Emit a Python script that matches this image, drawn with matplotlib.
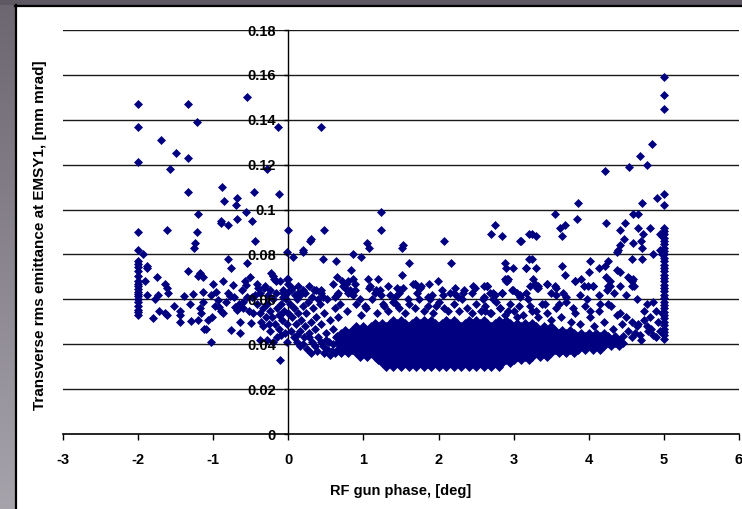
import matplotlib
matplotlib.use("Agg")
import matplotlib.pyplot as plt
import numpy as np
from matplotlib.patches import Rectangle
from matplotlib.lines import Line2D
from matplotlib.colors import LinearSegmentedColormap

# ---------------- data ----------------
x_ticks = [-3, -2, -1, 0, 1, 2, 3, 4, 5, 6]
y_ticks = [0, 0.02, 0.04, 0.06, 0.08, 0.10, 0.12, 0.14, 0.16, 0.18]
y_ticklabels = ["0", "0.02", "0.04", "0.06", "0.08", "0.1", "0.12", "0.14", "0.16", "0.18"]

# isolated high points
high_pts = [
    (-2.00, 0.147), (-2.00, 0.137), (-2.00, 0.121), (-1.70, 0.131), (-1.50, 0.125), (-1.58, 0.118),
    (-1.34, 0.147), (-1.34, 0.123), (-1.21, 0.139), (-1.34, 0.108), (-1.20, 0.098), (-1.21, 0.090),
    (-1.24, 0.085), (-1.25, 0.083), (-1.62, 0.091), (-2.00, 0.090), (-2.00, 0.082), (-1.93, 0.080),
    (-0.88, 0.110), (-0.86, 0.104), (-0.68, 0.105), (-0.70, 0.102), (-0.89, 0.095), (-0.90, 0.094),
    (-0.80, 0.093), (-0.68, 0.096), (-0.57, 0.099), (-0.48, 0.095), (-0.46, 0.108), (-0.55, 0.150),
    (-0.14, 0.137), (-0.29, 0.118), (-0.12, 0.107), (-0.44, 0.086), (-0.80, 0.078), (-0.76, 0.074),
    (-0.55, 0.076), (-0.02, 0.081), (0.00, 0.091), (0.43, 0.137), (0.47, 0.091), (1.24, 0.099),
    (1.23, 0.091), (0.29, 0.086), (0.30, 0.087), (1.05, 0.085), (1.07, 0.083), (0.06, 0.079),
    (0.19, 0.081), (0.20, 0.082), (0.46, 0.078), (0.86, 0.080), (0.97, 0.079), (1.52, 0.084),
    (1.51, 0.083), (2.07, 0.086), (2.75, 0.093), (2.70, 0.089), (2.84, 0.088), (3.09, 0.086),
    (3.21, 0.089), (1.61, 0.076), (2.16, 0.076), (2.88, 0.076), (2.90, 0.074), (2.99, 0.074),
    (3.16, 0.074), (3.21, 0.078), (0.63, 0.077), (0.83, 0.073), (0.65, 0.070), (1.51, 0.071),
    (4.84, 0.129), (4.68, 0.124), (4.78, 0.120), (4.54, 0.119), (4.22, 0.117), (4.91, 0.105),
    (4.71, 0.103), (3.86, 0.103), (3.55, 0.098), (3.84, 0.096), (4.59, 0.098), (4.66, 0.098),
    (4.23, 0.094), (3.68, 0.093), (3.62, 0.092), (3.64, 0.088), (4.48, 0.094), (4.41, 0.091),
    (4.65, 0.092), (4.82, 0.092), (3.24, 0.089), (3.30, 0.088), (3.10, 0.086), (4.47, 0.087),
    (4.72, 0.089), (4.59, 0.085), (4.41, 0.084), (4.39, 0.082), (4.69, 0.086), (4.95, 0.089),
    (4.97, 0.088), (4.95, 0.082), (4.97, 0.080), (4.85, 0.080), (4.57, 0.078), (4.71, 0.078),
    (4.38, 0.081), (4.71, 0.083), (3.24, 0.078), (3.16, 0.074), (3.30, 0.074), (3.64, 0.075),
    (4.02, 0.077), (4.26, 0.077), (4.21, 0.075), (4.13, 0.074), (3.69, 0.071), (4.00, 0.072),
    (4.38, 0.073), (4.41, 0.072), (4.52, 0.070), (4.55, 0.069), (4.58, 0.068), (4.60, 0.066),
]

# column of runs at -2 deg and at +5 deg
col_m2_emit = [0.077, 0.0757, 0.0745, 0.0727, 0.0705, 0.068, 0.0668, 0.066, 0.0645, 0.0634,
               0.0624, 0.0615, 0.060, 0.0587, 0.057, 0.0552, 0.0542, 0.053]
col_p5_emit = [0.159, 0.151, 0.145, 0.107, 0.102, 0.092, 0.0905, 0.089, 0.0875, 0.086, 0.0845,
               0.083, 0.0815, 0.080, 0.0785, 0.077, 0.0755, 0.074, 0.0725, 0.071, 0.0695, 0.068,
               0.0665, 0.065, 0.0635, 0.062, 0.0605, 0.059, 0.0575, 0.056, 0.0545, 0.053, 0.0515,
               0.050, 0.0485, 0.047, 0.0455, 0.044, 0.0425]

# scattered points left of zero
left_pts = [
    (-1.88, 0.075), (-1.88, 0.074), (-1.91, 0.068), (-1.88, 0.062), (-1.75, 0.070), (-1.80, 0.0515),
    (-1.72, 0.055), (-1.73, 0.062), (-1.78, 0.060), (-1.64, 0.067), (-1.62, 0.065), (-1.60, 0.063),
    (-1.64, 0.054), (-1.62, 0.053), (-1.52, 0.057), (-1.44, 0.055), (-1.44, 0.053), (-1.44, 0.050),
    (-1.39, 0.0615), (-1.33, 0.0727), (-1.31, 0.058), (-1.29, 0.0505), (-1.27, 0.0624), (-1.20, 0.0704),
    (-1.17, 0.0716), (-1.13, 0.070), (-1.20, 0.051), (-1.18, 0.056), (-1.16, 0.054), (-1.12, 0.047),
    (-1.09, 0.047), (-1.07, 0.0508), (-1.02, 0.0522), (-1.03, 0.041), (-1.14, 0.0634), (-1.13, 0.059),
    (-1.00, 0.0668), (-1.03, 0.062), (-0.96, 0.0634), (-0.93, 0.0597), (-0.87, 0.068), (-0.92, 0.0565),
    (-0.90, 0.0548), (-0.87, 0.0538), (-0.80, 0.063), (-0.78, 0.0615), (-0.76, 0.0463), (-0.74, 0.0664),
    (-0.69, 0.0552), (-0.71, 0.0565), (-0.65, 0.050), (-0.65, 0.0451), (-0.58, 0.068),
    (-0.56, 0.0664), (-0.60, 0.059), (-0.60, 0.056), (-0.51, 0.070), (-0.49, 0.0612), (-0.50, 0.0493),
    (-0.40, 0.065), (-0.38, 0.0627), (-0.38, 0.0538), (-0.36, 0.0497), (-0.34, 0.048), (-0.32, 0.065),
    (-0.23, 0.0716), (-0.21, 0.0704), (-0.19, 0.069), (-0.17, 0.068), (-0.11, 0.033), (0.00, 0.069),
    (0.00, 0.0668), (-0.29, 0.042), (-0.20, 0.041), (-0.02, 0.041), (0.11, 0.041), (-0.38, 0.042),
    (-0.28, 0.058), (-0.25, 0.055), (-0.22, 0.052), (-0.20, 0.060), (-0.18, 0.049), (-0.15, 0.056),
    (-0.13, 0.053), (-0.12, 0.047), (-0.10, 0.058), (-0.08, 0.051), (-0.06, 0.055), (-0.05, 0.045),
    (-0.03, 0.060), (-0.02, 0.049), (-0.24, 0.046), (-0.30, 0.052), (-0.34, 0.056), (-0.27, 0.062),
    (-0.16, 0.063), (-0.07, 0.061), (-0.42, 0.058), (-0.45, 0.062), (-0.47, 0.054), (-0.55, 0.061),
    (-0.62, 0.064), (-0.66, 0.058), (-0.72, 0.061), (-0.83, 0.059), (-0.98, 0.057), (-0.52, 0.055),
    (-0.26, 0.049), (-0.42, 0.067), (-0.31, 0.066), (-0.25, 0.064), (-0.07, 0.063), (-0.02, 0.069),
    (-0.11, 0.068), (-0.07, 0.064), (-0.02, 0.063), (-0.10, 0.044), (-0.15, 0.043), (-0.09, 0.054),
]

# scattered points right of zero, above the dense core
mid_pts = [
    (0.00, 0.054), (0.02, 0.058), (0.03, 0.046), (0.05, 0.052), (0.07, 0.056), (0.08, 0.043),
    (0.10, 0.049), (0.12, 0.060), (0.13, 0.054), (0.15, 0.046), (0.17, 0.051), (0.19, 0.057),
    (0.21, 0.043), (0.22, 0.048), (0.24, 0.054), (0.26, 0.059), (0.28, 0.045), (0.30, 0.050),
    (0.32, 0.041), (0.33, 0.056), (0.35, 0.047), (0.37, 0.052), (0.40, 0.043), (0.42, 0.058),
    (0.44, 0.049), (0.46, 0.039), (0.48, 0.054), (0.50, 0.045), (0.52, 0.060), (0.54, 0.041),
    (0.56, 0.051), (0.58, 0.037), (0.60, 0.047), (0.62, 0.056), (0.64, 0.043), (0.66, 0.052),
    (0.68, 0.038), (0.09, 0.062), (0.16, 0.039), (0.25, 0.038), (0.38, 0.037), (0.48, 0.036),
    (0.55, 0.035), (0.40, 0.060), (0.34, 0.064), (0.27, 0.066), (0.13, 0.066), (0.05, 0.065),
    (0.20, 0.040), (0.30, 0.036), (0.35, 0.039), (0.43, 0.041), (0.52, 0.038), (0.60, 0.040),
    (0.62, 0.036), (0.27, 0.043), (0.12, 0.044), (0.50, 0.042),
    (0.04, 0.064), (0.13, 0.063), (0.20, 0.064), (0.31, 0.061), (0.37, 0.064), (0.44, 0.063),
    (0.46, 0.061), (0.62, 0.061), (0.65, 0.062), (0.71, 0.068), (0.73, 0.066), (0.75, 0.065),
    (0.80, 0.063), (0.84, 0.063), (0.89, 0.064), (1.08, 0.065), (1.17, 0.064), (1.22, 0.064),
    (1.33, 0.066), (1.35, 0.062), (1.42, 0.061), (1.45, 0.065), (1.49, 0.064), (1.48, 0.063),
    (1.59, 0.060), (1.69, 0.067), (1.71, 0.066), (1.75, 0.065), (1.86, 0.061), (1.91, 0.062),
    (2.06, 0.062), (2.15, 0.063), (2.20, 0.063), (2.26, 0.061), (2.34, 0.064), (2.44, 0.063),
    (2.48, 0.065), (2.60, 0.066), (2.65, 0.066), (2.68, 0.063), (2.75, 0.062), (2.84, 0.063),
    (2.91, 0.068), (2.93, 0.069), (2.98, 0.064), (3.05, 0.063), (3.08, 0.061), (3.17, 0.063),
    (0.15, 0.062), (0.22, 0.063), (0.44, 0.064), (0.60, 0.067), (0.66, 0.063), (0.69, 0.058),
    (0.77, 0.067), (0.82, 0.064), (0.86, 0.062), (0.89, 0.067), (0.95, 0.060), (1.02, 0.057),
    (1.09, 0.066), (1.15, 0.063), (1.24, 0.062), (1.26, 0.058), (1.44, 0.058), (1.53, 0.065),
    (1.66, 0.067), (1.71, 0.063), (1.77, 0.066), (1.88, 0.060), (1.97, 0.057), (2.04, 0.064),
    (2.22, 0.065), (2.33, 0.063), (2.46, 0.066), (2.60, 0.061), (2.64, 0.066), (2.73, 0.060),
    (1.06, 0.069), (1.19, 0.069), (0.86, 0.069), (0.80, 0.068), (1.99, 0.068), (1.87, 0.067),
    (1.68, 0.067), (2.91, 0.069), (2.90, 0.068), (3.26, 0.069), (3.33, 0.066), (3.31, 0.065),
    (3.44, 0.067), (3.55, 0.066), (3.57, 0.065), (3.82, 0.068), (3.90, 0.069), (3.99, 0.066),
    (4.05, 0.066), (4.23, 0.070), (4.28, 0.068), (4.26, 0.066),
    (0.78, 0.055), (0.90, 0.058), (0.97, 0.053), (1.04, 0.056), (1.12, 0.060), (1.18, 0.054),
    (1.27, 0.057), (1.33, 0.055), (1.40, 0.059), (1.47, 0.056), (1.55, 0.054), (1.60, 0.058),
    (1.68, 0.056), (1.74, 0.060), (1.80, 0.055), (1.86, 0.057), (1.93, 0.054), (2.00, 0.059),
    (2.07, 0.056), (2.12, 0.055), (2.20, 0.058), (2.27, 0.055), (2.31, 0.060), (2.38, 0.056),
    (2.45, 0.054), (2.50, 0.058), (2.56, 0.055), (2.62, 0.057), (2.70, 0.054), (2.76, 0.059),
    (2.82, 0.056), (2.88, 0.053), (2.95, 0.058), (3.01, 0.055), (3.07, 0.057), (3.13, 0.053),
    (3.19, 0.060), (3.25, 0.055), (3.32, 0.052), (3.38, 0.058), (3.45, 0.054), (3.50, 0.051),
    (3.57, 0.056), (3.63, 0.052), (3.70, 0.059), (3.76, 0.050), (3.82, 0.054), (3.88, 0.049),
    (3.95, 0.057), (4.01, 0.052), (4.07, 0.048), (4.14, 0.055), (4.20, 0.050), (4.26, 0.058),
    (4.32, 0.047), (4.38, 0.053), (4.44, 0.049),
    (2.64, 0.066), (2.73, 0.063), (2.84, 0.063), (2.99, 0.064), (3.08, 0.062), (2.88, 0.069),
    (3.22, 0.066), (3.28, 0.067), (3.44, 0.067), (3.33, 0.065), (3.50, 0.063), (3.57, 0.062),
    (3.66, 0.063), (3.70, 0.061), (3.81, 0.068), (3.88, 0.062), (3.93, 0.066), (3.97, 0.060),
    (4.06, 0.066), (4.13, 0.062), (4.24, 0.064), (4.28, 0.066), (4.33, 0.063), (4.42, 0.066),
    (4.50, 0.062), (4.57, 0.066), (4.59, 0.069), (4.64, 0.060), (4.77, 0.058), (4.86, 0.059),
    (4.90, 0.055), (4.97, 0.054), (2.59, 0.060), (2.62, 0.055), (2.68, 0.054), (2.82, 0.056),
    (2.93, 0.055), (3.04, 0.052), (3.22, 0.057), (3.30, 0.055), (3.42, 0.058), (3.61, 0.058),
    (3.79, 0.056), (4.02, 0.055), (4.15, 0.058), (4.30, 0.057), (4.42, 0.054), (4.50, 0.052),
    (4.57, 0.050), (4.64, 0.048), (4.73, 0.051), (4.79, 0.046), (4.86, 0.044), (4.90, 0.043),
    (4.57, 0.043), (4.61, 0.045), (4.68, 0.044), (4.77, 0.048), (4.81, 0.052), (4.73, 0.055),
    (4.52, 0.046), (4.66, 0.049), (4.83, 0.047), (4.92, 0.050), (4.70, 0.042), (4.95, 0.046),
]

# dense core: emittance level of each row and the phases found on that row
core_levels = [0.0300, 0.0315, 0.0330, 0.0345, 0.0360, 0.0375, 0.0390, 0.0405,
               0.0420, 0.0435, 0.0450, 0.0465, 0.0480, 0.0495, 0.0510]
core_phases = [
    [1.30, 1.40, 1.50, 1.60, 1.70, 1.80, 1.90, 2.00, 2.10, 2.20, 2.30, 2.40, 2.50, 2.60, 2.70,
     2.80],
    [1.25, 1.35, 1.45, 1.55, 1.65, 1.75, 1.85, 1.95, 2.05, 2.15, 2.25, 2.35, 2.45, 2.55, 2.65,
     2.75, 2.85, 2.95],
    [1.20, 1.30, 1.40, 1.50, 1.60, 1.70, 1.80, 1.90, 2.00, 2.10, 2.20, 2.30, 2.40, 2.50, 2.60,
     2.70, 2.80, 2.90, 3.00, 3.10, 3.20],
    [0.95, 1.05, 1.15, 1.25, 1.35, 1.45, 1.55, 1.65, 1.75, 1.85, 1.95, 2.05, 2.15, 2.25, 2.35,
     2.45, 2.55, 2.65, 2.75, 2.85, 2.95, 3.05, 3.15, 3.25, 3.35, 3.45],
    [0.70, 0.80, 0.90, 1.00, 1.10, 1.20, 1.30, 1.40, 1.50, 1.60, 1.70, 1.80, 1.90, 2.00, 2.10,
     2.20, 2.30, 2.40, 2.50, 2.60, 2.70, 2.80, 2.90, 3.00, 3.10, 3.20, 3.30, 3.40, 3.50, 3.60,
     3.70, 3.80],
    [0.65, 0.75, 0.85, 0.95, 1.05, 1.15, 1.25, 1.35, 1.45, 1.55, 1.65, 1.75, 1.85, 1.95, 2.05,
     2.15, 2.25, 2.35, 2.45, 2.55, 2.65, 2.75, 2.85, 2.95, 3.05, 3.15, 3.25, 3.35, 3.45, 3.55,
     3.65, 3.75, 3.85, 3.95, 4.05, 4.15],
    [0.70, 0.80, 0.90, 1.00, 1.10, 1.20, 1.30, 1.40, 1.50, 1.60, 1.70, 1.80, 1.90, 2.00, 2.10,
     2.20, 2.30, 2.40, 2.50, 2.60, 2.70, 2.80, 2.90, 3.00, 3.10, 3.20, 3.30, 3.40, 3.50, 3.60,
     3.70, 3.80, 3.90, 4.00, 4.10, 4.20, 4.30, 4.40],
    [0.65, 0.75, 0.85, 0.95, 1.05, 1.15, 1.25, 1.35, 1.45, 1.55, 1.65, 1.75, 1.85, 1.95, 2.05,
     2.15, 2.25, 2.35, 2.45, 2.55, 2.65, 2.75, 2.85, 2.95, 3.05, 3.15, 3.25, 3.35, 3.45, 3.55,
     3.65, 3.75, 3.85, 3.95, 4.05, 4.15, 4.25, 4.35, 4.45],
    [0.70, 0.80, 0.90, 1.00, 1.10, 1.20, 1.30, 1.40, 1.50, 1.60, 1.70, 1.80, 1.90, 2.00, 2.10,
     2.20, 2.30, 2.40, 2.50, 2.60, 2.70, 2.80, 2.90, 3.00, 3.10, 3.20, 3.30, 3.40, 3.50, 3.60,
     3.70, 3.80, 3.90, 4.00, 4.10, 4.20, 4.30, 4.40],
    [0.65, 0.75, 0.85, 0.95, 1.05, 1.15, 1.25, 1.35, 1.45, 1.55, 1.65, 1.75, 1.85, 1.95, 2.05,
     2.15, 2.25, 2.35, 2.45, 2.55, 2.65, 2.75, 2.85, 2.95, 3.05, 3.15, 3.25, 3.35, 3.45, 3.55,
     3.65, 3.75, 3.85, 3.95, 4.05, 4.15, 4.25, 4.35, 4.45],
    [0.70, 0.80, 0.90, 1.00, 1.10, 1.20, 1.30, 1.40, 1.50, 1.60, 1.70, 1.80, 1.90, 2.00, 2.10,
     2.20, 2.30, 2.40, 2.50, 2.60, 2.70, 2.80, 2.90, 3.00, 3.10, 3.20, 3.30, 3.40, 3.50, 3.60,
     3.70, 3.80, 3.90, 4.00, 4.10, 4.20],
    [0.75, 0.85, 0.95, 1.05, 1.15, 1.25, 1.35, 1.45, 1.55, 1.65, 1.75, 1.85, 1.95, 2.05, 2.15,
     2.25, 2.35, 2.45, 2.55, 2.65, 2.75, 2.85, 2.95, 3.05, 3.15, 3.25, 3.35, 3.45, 3.55, 3.65,
     3.75],
    [0.90, 1.00, 1.10, 1.20, 1.30, 1.40, 1.50, 1.60, 1.70, 1.80, 1.90, 2.00, 2.10, 2.20, 2.30,
     2.40, 2.50, 2.60, 2.70, 2.80, 2.90, 3.00, 3.10, 3.20, 3.30, 3.40, 3.50],
    [1.15, 1.25, 1.35, 1.45, 1.55, 1.65, 1.75, 1.85, 1.95, 2.05, 2.15, 2.25, 2.35, 2.45, 2.55,
     2.65, 2.75, 2.85, 2.95, 3.05, 3.15, 3.25],
    [1.40, 1.50, 1.70, 1.80, 1.90, 2.10, 2.20, 2.40, 2.50, 2.60, 2.80, 2.90],
]

# ---------------- assemble ----------------
phase = []
emit = []
for group in (high_pts, left_pts, mid_pts):
    for p, e in group:
        phase.append(p)
        emit.append(e)
for e in col_m2_emit:
    phase.append(-2.0)
    emit.append(e)
for e in col_p5_emit:
    phase.append(5.0)
    emit.append(e)
for lvl, row in zip(core_levels, core_phases):
    for p in row:
        phase.append(p)
        emit.append(lvl)

# ---------------- figure ----------------
W, H = 742, 509
fig = plt.figure(figsize=(W / 100, H / 100), dpi=100)
fig.patch.set_facecolor("white")

# grey slide frame on the left and top
bg = fig.add_axes([0, 0, 15 / W, 1])
grad = np.linspace(0, 1, 256).reshape(-1, 1)
cmap_bg = LinearSegmentedColormap.from_list("bg", ["#a7a3ab", "#6b6670"])
bg.imshow(grad, aspect="auto", cmap=cmap_bg, origin="lower", extent=[0, 1, 0, 1])
bg.set_axis_off()
fig.add_artist(Rectangle((0, 1 - 5 / H), 1, 5 / H, transform=fig.transFigure,
                         facecolor="#5d5862", edgecolor="none"))
fig.add_artist(Line2D([15.5 / W, 15.5 / W], [0, 1 - 5 / H], transform=fig.transFigure,
                      color="black", lw=1.6))
fig.add_artist(Line2D([15 / W, 1], [1 - 5.8 / H, 1 - 5.8 / H], transform=fig.transFigure,
                      color="black", lw=1.6))

ax = fig.add_axes([63 / W, 75 / H, 676 / W, 404 / H])
ax.set_xlim(-3, 6)
ax.set_ylim(0, 0.18)
ax.set_facecolor("white")

for yv in y_ticks[1:]:
    ax.axhline(yv, color="#1a1a1a", lw=1.0, zorder=0.5)

ax.scatter(phase, emit, marker="D", s=21, color="#000080", linewidths=0, zorder=1)

ax.spines["top"].set_visible(False)
ax.spines["right"].set_visible(False)
ax.spines["left"].set_position(("data", 0))
ax.spines["left"].set_zorder(0.6)
ax.spines["left"].set_linewidth(1.0)
ax.spines["bottom"].set_linewidth(1.2)
ax.set_axisbelow(False)

ax.set_xticks(x_ticks)
ax.set_xticklabels([str(v) for v in x_ticks])
ax.set_yticks(y_ticks)
ax.set_yticklabels(y_ticklabels)

for lab in ax.get_xticklabels() + ax.get_yticklabels():
    lab.set_fontfamily("Liberation Sans")
    lab.set_fontweight("bold")
    lab.set_fontsize(10.5)
ax.tick_params(axis="x", direction="out", length=4.5, width=1.0, pad=9)
ax.tick_params(axis="y", direction="out", length=3, width=1.0, pad=6)

fig.text(401 / W, 1 - 491 / H, "RF gun phase, [deg]", ha="center", va="center",
         fontfamily="Liberation Sans", fontweight="bold", fontsize=10.5)
fig.text(40 / W, 1 - 235 / H, "Transverse rms emittance at EMSY1, [mm mrad]", ha="center",
         va="center", rotation=90, fontfamily="Liberation Sans", fontweight="bold", fontsize=11)

fig.savefig("out.png", dpi=100)
